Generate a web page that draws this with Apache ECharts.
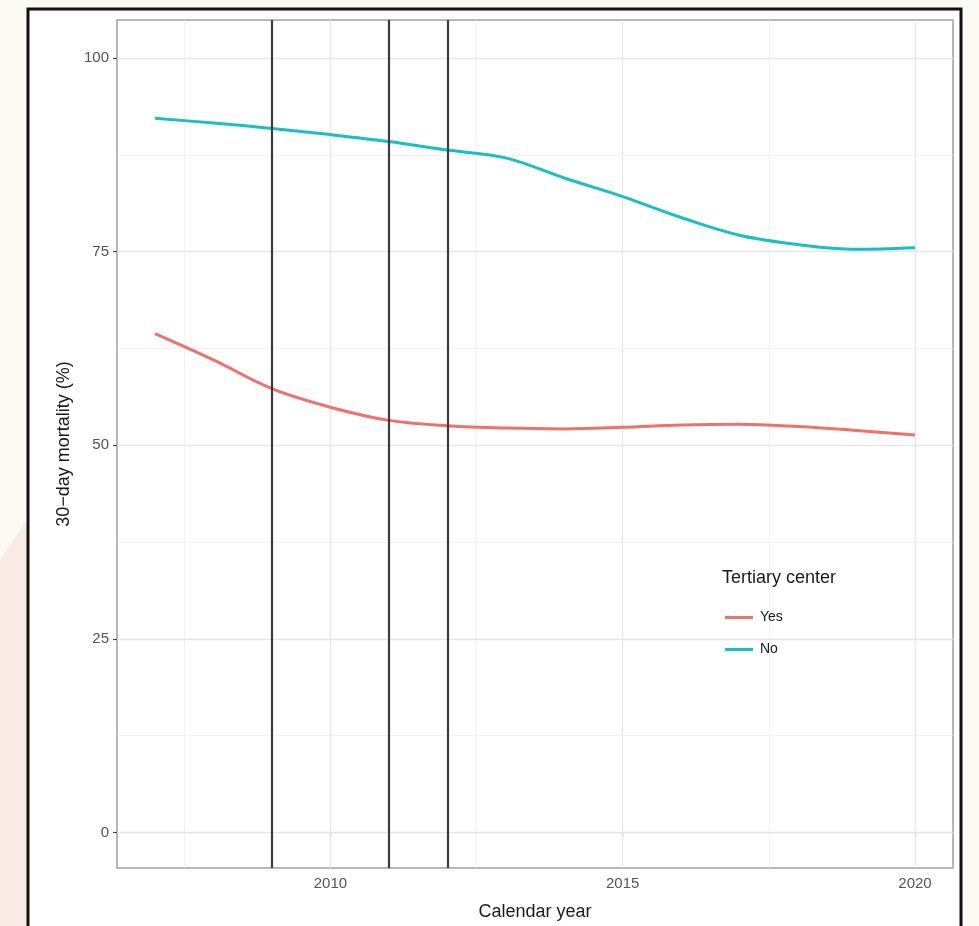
<!DOCTYPE html>
<html>
<head>
<meta charset="utf-8">
<title>30-day mortality by calendar year</title>
<script src="https://cdn.jsdelivr.net/npm/echarts@6/dist/echarts.min.js"></script>
<style>
  html, body { margin: 0; padding: 0; background: #fbfaf3; }
  #chart { width: 979px; height: 926px; }
</style>
</head>
<body>
<div id="chart"></div>
<script>
// Calendar years of the smoothed estimates
const years = [2007, 2008, 2009, 2010, 2011, 2012, 2013, 2014, 2015, 2016, 2017, 2018, 2019, 2020];
// 30-day mortality (%) by tertiary-center status
const mortalityYes = [64.4, 61.0, 57.3, 54.9, 53.2, 52.5, 52.2, 52.1, 52.3, 52.6, 52.7, 52.4, 51.9, 51.3];
const mortalityNo  = [92.2, 91.6, 90.9, 90.1, 89.2, 88.1, 87.1, 84.5, 82.1, 79.4, 77.1, 75.9, 75.3, 75.5];
// Reference years marked with vertical lines
const markerYears = [2009, 2011, 2012];
// Axis ticks and grid lines
const xTicks = [2010, 2015, 2020];
const xMinor = [2007.5, 2012.5, 2017.5];
const yTicks = [0, 25, 50, 75, 100];
const yMinor = [12.5, 37.5, 62.5, 87.5];
const seriesNames = ['Yes', 'No'];
const seriesColors = ['#F0706A', '#19BFC3'];

const chart = echarts.init(document.getElementById('chart'), null, { renderer: 'canvas' });

function pairs(xs, ys) { return xs.map((x, i) => [x, ys[i]]); }

const xMin = 2007 - 0.65, xMax = 2020 + 0.65;
const yMin = -4.6, yMax = 104.9;

const gridLine = (w, c) => ({ color: c, width: w, type: 'solid' });
const font = '"Liberation Sans", Arial, sans-serif';

const option = {
  backgroundColor: '#fbfaf3',
  animation: false,
  graphic: [
    // soft tint at the lower-left corner of the page
    { type: 'polygon', z: -10, shape: { points: [[0, 926], [0, 560], [27, 520], [27, 926]] },
      style: { fill: '#f8ebe4' } },
    // framed white card
    { type: 'rect', z: -5, shape: { x: 28, y: 9, width: 933, height: 930 },
      style: { fill: '#ffffff', stroke: '#111111', lineWidth: 3 } },
    // legend title
    { type: 'text', left: 722, top: 569, z: 10,
      style: { text: 'Tertiary center', font: '18px ' + font, fill: '#1a1a1a' } }
  ],
  grid: {
    left: 117, right: 26, top: 20, bottom: 58,
    show: true, backgroundColor: '#ffffff', borderColor: '#a0a0a0', borderWidth: 1.5
  },
  legend: {
    data: seriesNames,
    orient: 'vertical',
    left: 720, top: 605,
    icon: 'rect',
    itemWidth: 28, itemHeight: 3,
    itemGap: 17,
    textStyle: { fontFamily: font, fontSize: 14, color: '#1a1a1a', lineHeight: 15, padding: [0, 0, 0, 2] }
  },
  xAxis: {
    type: 'value', min: xMin, max: xMax,
    name: 'Calendar year', nameLocation: 'middle', nameGap: 35,
    nameTextStyle: { fontFamily: font, fontSize: 18, color: '#1a1a1a' },
    axisLine: { show: false },
    axisTick: { show: true, customValues: xTicks, length: 4, lineStyle: { color: '#444', width: 1.2 } },
    axisLabel: { customValues: xTicks, margin: 8, fontFamily: font, fontSize: 15, color: '#555',
                 formatter: v => String(v) },
    splitLine: { show: false }
  },
  yAxis: {
    type: 'value', min: yMin, max: yMax,
    name: '30\u2212day mortality (%)', nameLocation: 'middle', nameGap: 40, nameRotate: 90,
    nameTextStyle: { fontFamily: font, fontSize: 18, color: '#1a1a1a' },
    axisLine: { show: false },
    axisTick: { show: true, customValues: yTicks, length: 4, lineStyle: { color: '#444', width: 1.2 } },
    axisLabel: { customValues: yTicks, margin: 8, fontFamily: font, fontSize: 15, color: '#555',
                 formatter: v => String(v) },
    splitLine: { show: false }
  },
  series: [
    {
      // panel grid lines
      name: 'grid', type: 'line', data: [], silent: true, z: 1,
      markLine: {
        z: 1, silent: true, symbol: 'none', label: { show: false }, animation: false,
        data: [
          ...xMinor.map(v => ({ xAxis: v, lineStyle: gridLine(0.8, '#efefef') })),
          ...yMinor.map(v => ({ yAxis: v, lineStyle: gridLine(0.8, '#efefef') })),
          ...xTicks.map(v => ({ xAxis: v, lineStyle: gridLine(1.3, '#e6e6e6') })),
          ...yTicks.map(v => ({ yAxis: v, lineStyle: gridLine(1.3, '#e6e6e6') }))
        ]
      }
    },
    {
      name: seriesNames[0], type: 'line', data: pairs(years, mortalityYes),
      smooth: 0.35, showSymbol: false, symbol: 'none', z: 3,
      lineStyle: { color: seriesColors[0], width: 3 }, itemStyle: { color: seriesColors[0] }
    },
    {
      name: seriesNames[1], type: 'line', data: pairs(years, mortalityNo),
      smooth: 0.35, showSymbol: false, symbol: 'none', z: 3,
      lineStyle: { color: seriesColors[1], width: 3 }, itemStyle: { color: seriesColors[1] }
    },
    {
      // reference years
      name: 'markers', type: 'line', data: [], silent: true, z: 6,
      markLine: {
        z: 6, silent: true, symbol: 'none', label: { show: false }, animation: false,
        lineStyle: { color: '#3c3c3c', width: 2.2, type: 'solid' },
        data: markerYears.map(v => ({ xAxis: v }))
      }
    }
  ]
};

chart.setOption(option);
</script>
</body>
</html>
